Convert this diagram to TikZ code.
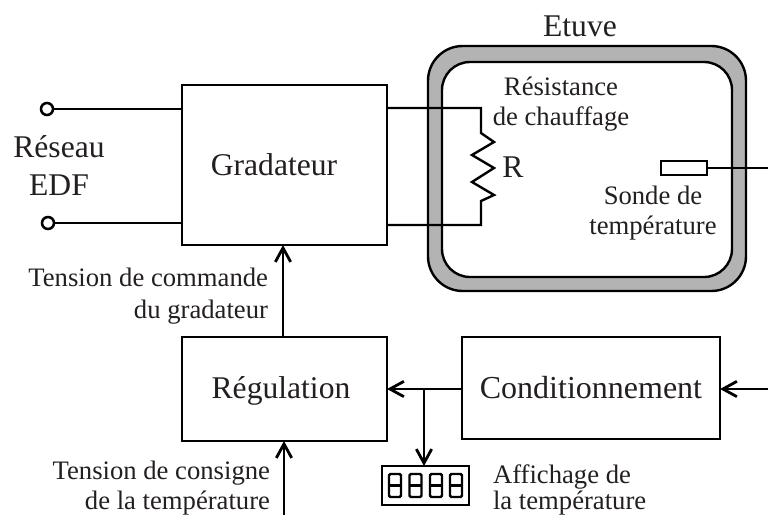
\documentclass[tikz,border=0pt]{standalone}
\usepackage{fontspec}
\setmainfont{Liberation Serif}
\usetikzlibrary{arrows.meta}
\definecolor{ink}{HTML}{231F20}
\definecolor{wall}{HTML}{B3B3B3}
\tikzset{
  x=0.75pt,y=-0.75pt,
  line/.style={draw=black,line width=1.8pt,line join=miter},
  arrowline/.style={line,-{Straight Barb[length=10.5pt,width=11.5pt,line width=2.1pt]}},
  blockbox/.style={draw=black,line width=1.8pt,fill=white,inner sep=0pt,outer sep=0pt},
  lbl/.style={inner sep=0pt,outer sep=0pt,text=ink,font=\fontsize{20}{22.5}\selectfont},
  biglbl/.style={inner sep=0pt,outer sep=0pt,text=ink,font=\fontsize{23.7}{28}\selectfont},
  terminal/.style={circle,draw=black,line width=1.9pt,fill=white,minimum size=9pt,inner sep=0pt,outer sep=0pt},
  digitseg/.style={draw=black,line width=1.8pt,rounded corners=1pt},
}
\begin{document}
\begin{tikzpicture}
\useasboundingbox (0,0) rectangle (768,515);
% Etuve walls
\draw[line,fill=wall,rounded corners=26pt] (428,46) rectangle (746,291);
\draw[line,fill=white,rounded corners=21pt] (442,62) rectangle (732,277);
\node[biglbl,anchor=base] (etuve) at (580,36) {Etuve};
% Blocks
\node[blockbox,minimum width=205*0.75pt,minimum height=160*0.75pt] (grad) at (284.5,165) {};
\node[blockbox,minimum width=205*0.75pt,minimum height=104*0.75pt] (regul) at (284.5,389) {};
\node[blockbox,minimum width=258*0.75pt,minimum height=102*0.75pt] (cond) at (591,388) {};
\node[biglbl,anchor=base] (gradtxt) at (274,175) {Gradateur};
\node[biglbl,anchor=base] (regtxt) at (281,398) {Régulation};
\node[biglbl,font=\fontsize{24}{28}\selectfont,anchor=base] (condtxt) at (591,398) {Conditionnement};
% Network terminals
\node[terminal] (t1) at (47,109) {};
\node[terminal] (t2) at (48,223) {};
\coordinate (g1) at (182,109);
\coordinate (g2) at (182,223);
\draw[line] (t1) -- (g1);
\draw[line] (t2) -- (g2);
\node[biglbl,anchor=base] (reseau) at (59,157) {Réseau};
\node[biglbl,anchor=base] (edf) at (59,195) {EDF};
% Heating resistor
\coordinate (g3) at (387,108);
\coordinate (g4) at (387,225);
\coordinate (r1) at (481,133);
\coordinate (r2) at (481,201);
\draw[line] (g3) -- (481,108) -- (r1) -- (494,142) -- (472,155) -- (494,168) -- (472,182) -- (494,195) -- (r2) -- (481,225) -- (g4);
\node[biglbl,anchor=base] (rlab) at (513,177) {R};
\node[lbl,anchor=base] (res1) at (561,95) {Résistance};
\node[lbl,anchor=base] (res2) at (561,125) {de chauffage};
% Sensor
\node[blockbox,minimum width=46*0.75pt,minimum height=14*0.75pt] (sonde) at (684,168) {};
\coordinate (outR) at (768,168);
\draw[line] (sonde.east) -- (outR);
\node[lbl,anchor=base] (s1) at (653,204) {Sonde de};
\node[lbl,anchor=base] (s2) at (653,234) {température};
% Control arrows
\draw[arrowline] (283,337) -- (283,245);
\coordinate (inB) at (284,515);
\draw[arrowline] (inB) -- (284,441);
\node[lbl,anchor=base east] (c1) at (268,286) {Tension de commande};
\node[lbl,anchor=base east] (c2) at (268,318) {du gradateur};
\node[lbl,anchor=base east] (c3) at (270,479) {Tension de consigne};
\node[lbl,anchor=base east] (c4) at (270,509) {de la température};
% Feedback
\coordinate (inC) at (768,389);
\coordinate (condE) at (720,389);
\coordinate (condW) at (462,389);
\coordinate (regE) at (387,389);
\coordinate (branch) at (424,389);
\draw[arrowline] (inC) -- (condE);
\draw[arrowline] (condW) -- (regE);
% Display
\node[blockbox,minimum width=87*0.75pt,minimum height=39*0.75pt] (disp) at (425.5,485.5) {};
\draw[arrowline] (branch) -- (branch |- disp.north);
\foreach \dx in {389,409.5,430,450}{
  \draw[digitseg] (\dx,474) rectangle (\dx+12,497);
  \draw[draw=black,line width=1.8pt] (\dx,485.5) -- (\dx+12,485.5);
}
\node[lbl,anchor=base west] (a1) at (493,483) {Affichage de};
\node[lbl,anchor=base west] (a2) at (493,509) {la température};
\end{tikzpicture}
\end{document}
